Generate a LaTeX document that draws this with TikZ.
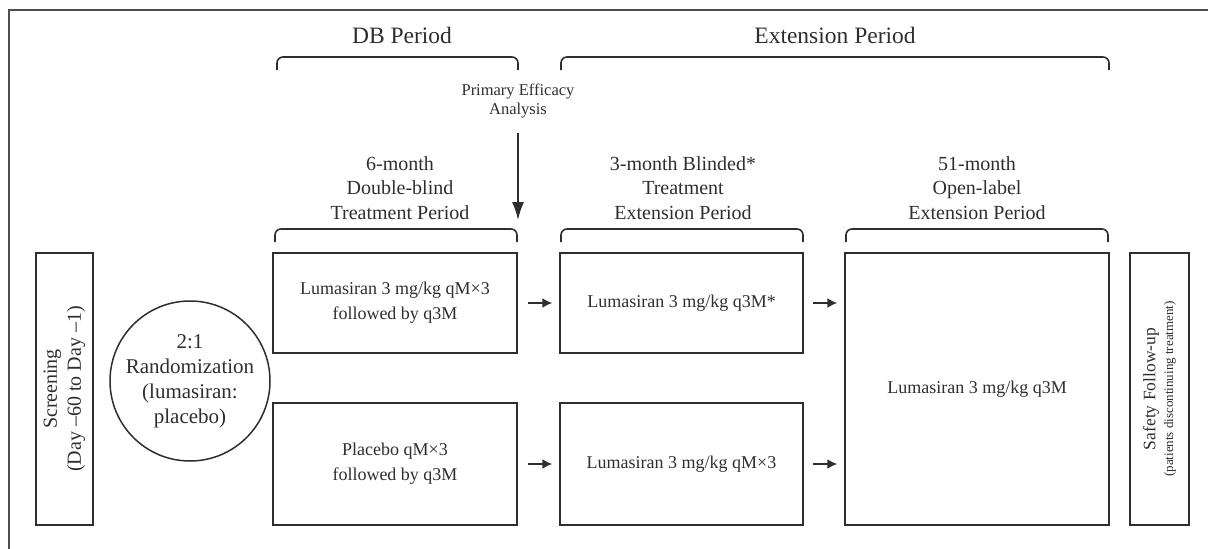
\documentclass[tikz,border=0pt]{standalone}
\usepackage{fontspec}
\setmainfont{Liberation Serif}
\usetikzlibrary{arrows.meta}
\definecolor{ink}{HTML}{2E2E2E}
\begin{document}
\begin{tikzpicture}[x=1pt,y=-1pt,
  frame/.style={draw=ink!85, line width=1.8pt},
  box/.style={draw=ink, line width=1.5pt, inner sep=0pt, align=center, text=ink},
  brace/.style={draw=ink, line width=1.6pt, rounded corners=6pt},
  flow/.style={-{Latex[length=10pt,width=10pt]}, line width=1.6pt, draw=ink, fill=ink},
  hdr/.style={font=\fontsize{20}{24.5}\selectfont, align=center, text=ink, inner sep=0pt},
  big/.style={font=\fontsize{23.5}{28}\selectfont, align=center, text=ink, inner sep=0pt},
  txt/.style={font=\fontsize{18}{25}\selectfont},
]
\useasboundingbox (0,0) rectangle (1208,549);
\draw[frame] (9,549) -- (9,10) -- (1208,10);

% top headings
\node[big] (dbp) at (402,35) {DB Period};
\node[big] (extp) at (835,35) {Extension Period};
\draw[brace] (277,70) -- (277,57) -- (518,57) -- (518,70);
\draw[brace] (561,70) -- (561,57) -- (1109,57) -- (1109,70);

\node[hdr, font=\fontsize{16.5}{19}\selectfont] (pea) at (518,101) {Primary Efficacy\\Analysis};
\coordinate (peaend) at (518,220);
\draw[flow, -{Latex[length=18pt,width=12pt]}] (pea.south) ++(0,15) -- (peaend);

% column headings
\node[hdr] (h1) at (400,188) {6-month\\Double-blind\\Treatment Period};
\node[hdr] (h2) at (683,188) {3-month Blinded*\\Treatment\\Extension Period};
\node[hdr] (h3) at (977,188) {51-month\\Open-label\\Extension Period};
\draw[brace] (275,242) -- (275,229) -- (517,229) -- (517,242);
\draw[brace] (561,242) -- (561,229) -- (803,229) -- (803,242);
\draw[brace] (846,242) -- (846,229) -- (1108,229) -- (1108,242);

% screening & randomization
\node[box, rotate=90, minimum width=272pt, minimum height=57pt,
      font=\fontsize{20}{24}\selectfont] (scr) at (64.5,389)
      {Screening\\(Day \textendash60 to Day \textendash1)};
\node[box, circle, minimum size=160pt, font=\fontsize{21}{25}\selectfont]
      (rnd) at (190,381) {2:1\\Randomization\\(lumasiran:\\placebo)};

% DB period boxes
\node[box, txt, minimum width=244pt, minimum height=100pt] (db1) at (395,303)
      {Lumasiran 3 mg/kg qM\texttimes3\\followed by q3M};
\node[box, txt, minimum width=244pt, minimum height=122pt] (db2) at (395,464)
      {Placebo qM\texttimes3\\followed by q3M};

% blinded extension boxes
\node[box, txt, minimum width=243pt, minimum height=100pt] (be1) at (681.5,303)
      {Lumasiran 3 mg/kg q3M*};
\node[box, txt, minimum width=243pt, minimum height=122pt] (be2) at (681.5,464)
      {Lumasiran 3 mg/kg qM\texttimes3};

% open-label box
\node[box, txt, minimum width=264pt, minimum height=272pt] (ol) at (977,389)
      {Lumasiran 3 mg/kg q3M};

% safety follow-up
\node[box, rotate=90, minimum width=272pt, minimum height=59pt] (saf) at (1159.5,389)
      {{\fontsize{17.5}{22}\selectfont Safety Follow-up}\\[4pt]
       {\fontsize{13}{15}\selectfont (patients discontinuing treatment)}};

% arrows
\draw[flow, shorten <=10pt, shorten >=7pt] (db1.east) -- (be1.west);
\draw[flow, shorten <=10pt, shorten >=7pt] (db2.east) -- (be2.west);
\draw[flow, shorten <=9pt, shorten >=7pt] (be1.east) -- (ol.west |- be1.east);
\draw[flow, shorten <=9pt, shorten >=7pt] (be2.east) -- (ol.west |- be2.east);
\end{tikzpicture}
\end{document}
